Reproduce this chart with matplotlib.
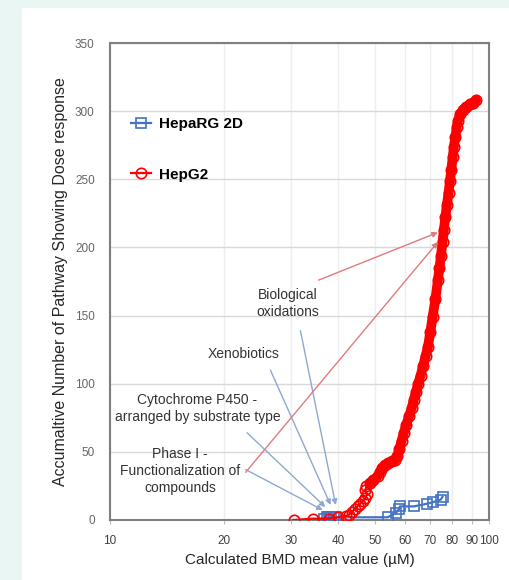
import matplotlib
matplotlib.use("Agg")
import matplotlib.pyplot as plt
from matplotlib.patches import Rectangle
from matplotlib.ticker import FixedLocator, NullLocator

plt.rcParams['font.family'] = ['Liberation Sans', 'DejaVu Sans']

# HepG2 - sorted BMD values (uM) vs accumulated pathway count
hepg2_bmd = [30.5, 34.4, 37.8, 40.0, 42.0, 42.7, 43.5, 44.2, 45.0, 45.8,
             46.5, 47.2, 47.6, 47.2, 47.5, 48.5, 49.5, 50.8, 51.5, 52.3,
             53.0, 54.3, 55.5, 56.5, 57.3, 58.0, 58.8, 59.6, 60.5, 61.5,
             62.5, 63.3, 64.2, 65.0, 66.0, 67.0, 68.0, 69.0, 70.0, 71.0,
             72.2, 73.3, 74.0, 74.7, 75.4, 76.0, 76.7, 77.4, 78.2, 78.9,
             79.5, 80.2, 80.8, 81.5, 82.2, 82.8, 84.0, 85.5, 86.9, 89.0,
             91.0, 92.5]
hepg2_count = [0, 1, 1, 2, 3, 4, 6, 8, 10, 12,
               14, 16, 19, 22, 25, 27, 29, 32, 35, 38,
               40, 42, 43, 44, 47, 52, 58, 64, 70, 76,
               82, 88, 94, 100, 106, 113, 120, 127, 138, 149,
               162, 176, 185, 194, 204, 213, 222, 231, 240, 249,
               257, 266, 274, 281, 288, 293, 298, 301, 303, 305,
               306, 308]

# HepaRG 2D
heparg_bmd = [36.8, 37.3, 37.8, 38.4, 39.0, 39.5, 54.0, 56.7, 57.9, 58.2,
              63.4, 68.8, 71.0, 74.6, 75.4]
heparg_count = [1, 2, 2, 2, 2, 2, 2, 5, 8, 10,
                10, 12, 13, 15, 17]

x_ticks = [10, 20, 30, 40, 50, 60, 70, 80, 90, 100]
y_ticks = [0, 50, 100, 150, 200, 250, 300, 350]

# annotations: text, text position, [(arrow start, arrow tip, colour)]
blue_arrow = '#8ea8d2'
red_arrow = '#e27a7a'
notes = [
    ("Biological\noxidations", (29.4, 159),
     [((31.8, 139), (39.4, 11), blue_arrow), ((35.5, 176), (73.3, 211), red_arrow)]),
    ("Xenobiotics", (22.5, 122),
     [((26.5, 110), (38.2, 11), blue_arrow)]),
    ("Cytochrome P450 -\narranged by substrate type", (17.0, 82),
     [((23.0, 64), (37.0, 9.5), blue_arrow)]),
    ("Phase I -\nFunctionalization of\ncompounds", (15.3, 36),
     [((22.8, 37), (36.4, 7.3), blue_arrow), ((22.8, 35), (73.3, 204), red_arrow)]),
]

fig = plt.figure(figsize=(5.1, 5.8), dpi=100, facecolor='#eaf6f3')
panel = Rectangle((22 / 510, 0), 1, 1 - 8 / 580, transform=fig.transFigure,
                  facecolor='white', edgecolor='none', zorder=-10)
fig.add_artist(panel)
ax = fig.add_axes([110 / 510, 60 / 580, 379 / 510, 477 / 580])
ax.set_zorder(1)
ax.set_facecolor('white')

ax.set_xscale('log')
ax.set_xlim(10, 100)
ax.set_ylim(0, 350)

ax.xaxis.set_major_locator(FixedLocator(x_ticks))
ax.xaxis.set_minor_locator(NullLocator())
ax.set_xticklabels([str(t) for t in x_ticks])
ax.set_yticks(y_ticks)

ax.grid(axis='y', color='#d9d9d9', lw=1.0)
ax.grid(axis='x', color='#eeeeee', lw=1.0)
ax.set_axisbelow(True)

for s in ax.spines.values():
    s.set_color('#7f7f7f')
    s.set_linewidth(1.5)

ax.tick_params(axis='y', length=0, pad=11, labelsize=8.5, labelcolor='#666666')
ax.tick_params(axis='x', length=3, color='#bfbfbf', pad=8, labelsize=8.5, labelcolor='#404040')

l1, = ax.plot(heparg_bmd, heparg_count, color='#4472c4', lw=1.6, marker='s', ms=6.5,
              mfc='none', mec='#4472c4', mew=1.2, label='HepaRG 2D', zorder=3)

# the dense part of the HepG2 series reads as a solid band of overlapping circles
steep = [i for i, c in enumerate(hepg2_count) if c >= 27]
ax.plot([hepg2_bmd[i] for i in steep], [hepg2_count[i] for i in steep],
        color='#ff0000', lw=7, solid_capstyle='round', zorder=3.5)
l2, = ax.plot(hepg2_bmd, hepg2_count, color='#ff0000', lw=1.6, marker='o', ms=7.5,
              mfc='none', mec='#ff0000', mew=1.2, label='HepG2', zorder=4)

for text, pos, arrows in notes:
    ax.text(pos[0], pos[1], text, ha='center', va='center', fontsize=10,
            color='#333333', linespacing=1.25, zorder=5)
    for start, tip, col in arrows:
        ax.annotate('', xy=tip, xytext=start,
                    arrowprops=dict(arrowstyle='-|>', color=col, lw=1.0,
                                    mutation_scale=8, shrinkA=0, shrinkB=0),
                    zorder=6)

leg = ax.legend(handles=[l1, l2], loc='upper left', bbox_to_anchor=(0.055, 0.845),
                frameon=False, prop={'weight': 'bold', 'size': 11},
                handlelength=1.3, handletextpad=0.55, labelspacing=2.4,
                borderpad=0, borderaxespad=0)

ax.set_ylabel('Accumaltive Number of Pathway Showing Dose response',
              fontsize=11.5, color='#262626')
ax.yaxis.set_label_coords(-0.112, 0.5)
ax.set_xlabel('Calculated BMD mean value (µM)', fontsize=11, color='#262626')
ax.xaxis.set_label_coords(0.5, -0.07)

fig.savefig('out.png', dpi=100, facecolor=fig.get_facecolor())
